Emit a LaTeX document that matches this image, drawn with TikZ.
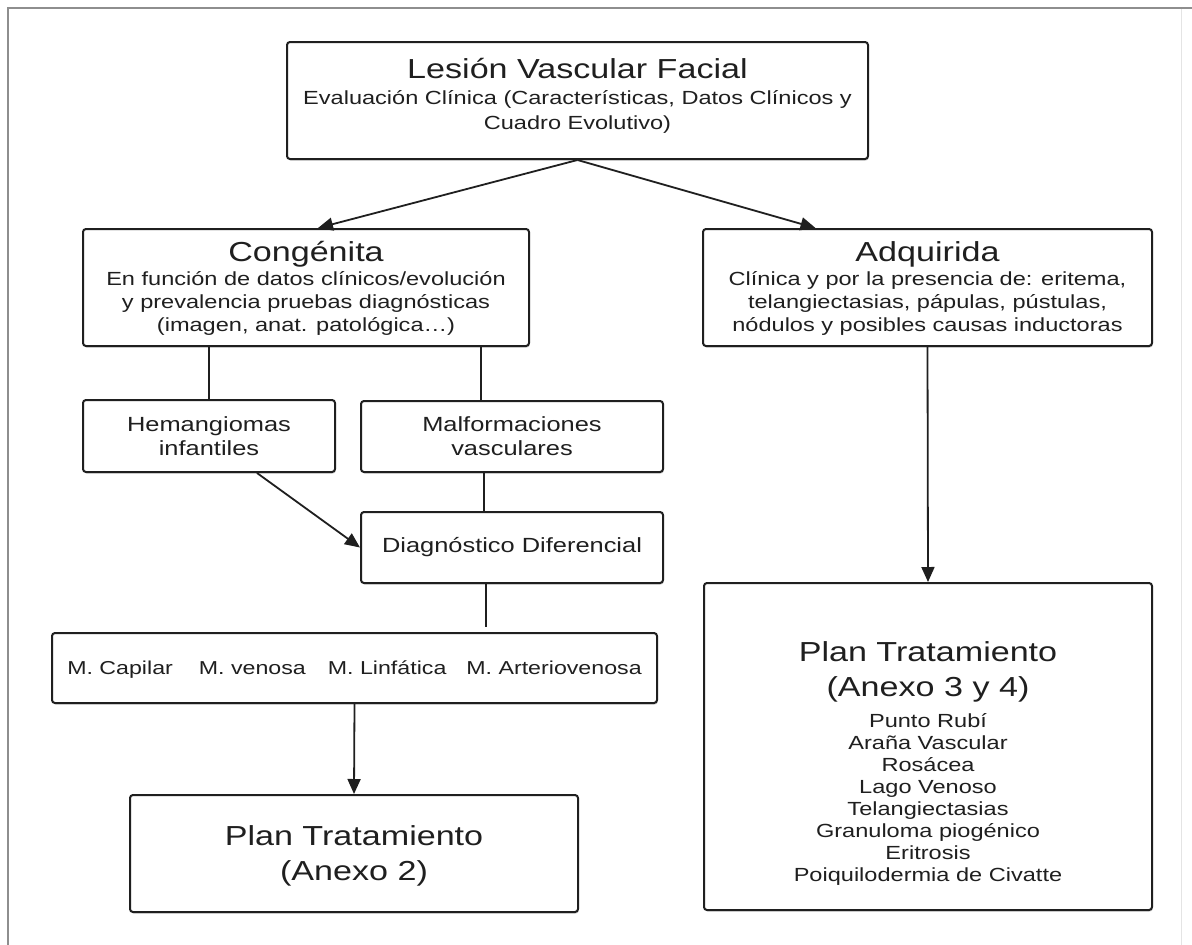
\documentclass[tikz,border=0pt]{standalone}
\usepackage{fontspec}
\setmainfont{Liberation Sans}[FakeStretch=1.24]
\usetikzlibrary{arrows.meta,shadows}
\definecolor{ink}{HTML}{1F1F1F}
\definecolor{framegray}{HTML}{8E8E8E}
\definecolor{edgegray}{HTML}{E4E4E4}
\begin{document}
\begin{tikzpicture}[x=1pt,y=-1pt,
  box/.style={draw=ink, line width=2pt, rounded corners=3pt, fill=white, inner sep=0pt,
    drop shadow={shadow xshift=0.8pt, shadow yshift=-1.6pt, opacity=0.18, fill=black}},
  txt/.style={text=ink, align=center, inner sep=0pt},
  subf/.style={font=\fontsize{19}{23}\selectfont},
  midf/.style={font=\fontsize{20.5}{24}\selectfont},
  link/.style={draw=ink, line width=1.8pt},
  arr/.style={draw=ink, line width=1.8pt, -{Triangle[length=15pt,width=13pt]}}
]
\useasboundingbox (0,0) rectangle (1192,945);
% page frame
\draw[framegray, line width=2pt] (8,945) -- (8,8) -- (1192,8);
\draw[edgegray, line width=1pt] (1181,9) -- (1181,945);

% boxes
\node[box, minimum width=581pt, minimum height=117pt] (top)    at (577.5,100.5) {};
\node[box, minimum width=446pt, minimum height=117pt] (cong)   at (306,287.5) {};
\node[box, minimum width=449pt, minimum height=117pt] (adq)    at (927.5,287.5) {};
\node[box, minimum width=252pt, minimum height=72pt]  (hem)    at (209,436) {};
\node[box, minimum width=302pt, minimum height=71pt]  (malf)   at (512,436.5) {};
\node[box, minimum width=302pt, minimum height=71pt]  (diag)   at (512,547.5) {};
\node[box, minimum width=605pt, minimum height=70pt]  (mbox)   at (354.5,668) {};
\node[box, minimum width=448pt, minimum height=117pt] (plan2)  at (354,853.5) {};
\node[box, minimum width=448pt, minimum height=327pt] (plan34) at (928,746.5) {};

% texts
\node[txt, font=\fontsize{19}{25}\selectfont] (topT) at ([yshift=5pt]top.center)
  {{\fontsize{27.5}{33}\selectfont Lesión Vascular Facial}\\[1pt]
   Evaluación Clínica (Características, Datos Clínicos y\\
   Cuadro Evolutivo)};
\node[txt, subf] (congT) at ([yshift=-1pt]cong.center)
  {{\fontsize{27.5}{33}\selectfont Congénita}\\[1pt]
   En función de datos clínicos/evolución\\
   y prevalencia pruebas diagnósticas\\
   (imagen, anat. patológica…)};
\node[txt, subf] (adqT) at ([yshift=-1pt]adq.center)
  {{\fontsize{27.5}{33}\selectfont Adquirida}\\[1pt]
   Clínica y por la presencia de: eritema,\\
   telangiectasias, pápulas, pústulas,\\
   nódulos y posibles causas inductoras};
\node[txt, midf] (hemT)  at (hem.center)  {Hemangiomas\\infantiles};
\node[txt, midf] (malfT) at (malf.center) {Malformaciones\\vasculares};
\node[txt, midf] (diagT) at (diag.center) {Diagnóstico Diferencial};
\node[txt, font=\fontsize{18.7}{22}\selectfont] (mboxT) at ([yshift=-2pt]mbox.center)
  {M. Capilar\hspace{26pt}M. venosa\hspace{22pt}M. Linfática\hspace{20pt}M. Arteriovenosa};
\node[txt, font=\fontsize{27.5}{35}\selectfont] (plan2T) at ([yshift=-2pt]plan2.center)
  {Plan Tratamiento\\(Anexo 2)};
\node[txt, font=\fontsize{19}{21.9}\selectfont, anchor=north] (plan34T) at ([yshift=-59pt]plan34.north)
  {{\fontsize{27.5}{35}\selectfont Plan Tratamiento}\\[13pt]
   {\fontsize{27.5}{35}\selectfont (Anexo 3 y 4)}\\[10pt]
   Punto Rubí\\ Araña Vascular\\ Rosácea\\ Lago Venoso\\ Telangiectasias\\
   Granuloma piogénico\\ Eritrosis\\ Poiquilodermia de Civatte};

% helper points for the straight links
\coordinate (c1) at ([xshift=-31pt]malf.north);
\coordinate (m1) at ([xshift=-28pt]malf.south);
\coordinate (d1) at ([xshift=-26pt]diag.south);
\coordinate (d2) at (d1 |- mbox.north);
\coordinate (h1) at ([xshift=48pt]hem.south);

% connectors
\draw[arr] (top.south) -- ([xshift=12pt]cong.north);
\draw[arr] (top.south) -- ([xshift=-112pt]adq.north);
\draw[link] (hem.north) -- (hem.north |- cong.south);
\draw[link] (c1) -- (c1 |- cong.south);
\draw[link] (m1) -- (m1 |- diag.north);
\draw[link] (d1) -- ([yshift=5pt]d2);
\draw[arr] (h1) -- (diag.west);
\draw[arr] (mbox.south) -- (plan2.north);
\draw[arr] (adq.south) -- (plan34.north);
\end{tikzpicture}
\end{document}
